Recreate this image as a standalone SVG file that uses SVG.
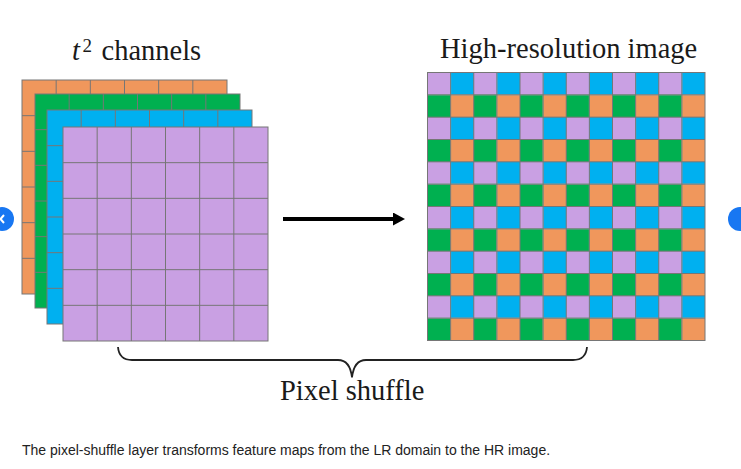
<svg xmlns="http://www.w3.org/2000/svg" width="741" height="469" viewBox="0 0 741 469">
  <style>
    .serif { font-family: "Liberation Serif", "Times New Roman", serif; fill: #1a1a1a; }
    .title { font-size: 28.5px; }
    .grid { fill: none; stroke: #767676; stroke-width: 1; }
    .orange { fill: #F0975C; }
    .green { fill: #00B050; }
    .blue { fill: #00B0F0; }
    .purple { fill: #C9A0E3; }
    .caption { font-family: "Liberation Sans", Arial, sans-serif; font-size: 14px; fill: #222222; }
    .nav { fill: #1877F2; }
  </style>
  <defs>
    <path id="lgrid" d="M34.17,0V214 M68.33,0V214 M102.5,0V214 M136.67,0V214 M170.83,0V214 M0,35.67H205 M0,71.33H205 M0,107H205 M0,142.67H205 M0,178.33H205"/>
    <pattern id="hr" patternUnits="userSpaceOnUse" x="427.5" y="72.5" width="46.25" height="44.667">
      <rect class="purple" x="0" y="0" width="23.125" height="22.334"/>
      <rect class="blue" x="23.125" y="0" width="23.125" height="22.334"/>
      <rect class="green" x="0" y="22.333" width="23.125" height="22.334"/>
      <rect class="orange" x="23.125" y="22.333" width="23.125" height="22.334"/>
    </pattern>
    <marker id="ah" markerUnits="userSpaceOnUse" markerWidth="13" markerHeight="14" refX="0" refY="6.5" orient="auto">
      <path d="M0,0 L12,6.5 L0,13 Z" fill="#000"/>
    </marker>
  </defs>

  <rect x="0" y="0" width="741" height="469" fill="#ffffff"/>

  <g id="title-left">
    <text class="serif title" y="60"><tspan x="72" font-style="italic">t</tspan><tspan x="82.5" y="52" font-size="19px">2</tspan><tspan x="101.5" y="60">channels</tspan></text>
  </g>
  <g id="title-right">
    <text class="serif title" x="440" y="58">High-resolution image</text>
  </g>

  <g id="channels">
    <g id="layer-orange" transform="translate(22,80)">
      <rect class="orange" width="205" height="214"/>
      <use href="#lgrid" class="grid"/>
      <rect class="grid" width="205" height="214"/>
    </g>
    <g id="layer-green" transform="translate(35,94)">
      <rect class="green" width="205" height="214"/>
      <use href="#lgrid" class="grid"/>
      <rect class="grid" width="205" height="214"/>
    </g>
    <g id="layer-blue" transform="translate(47,110)">
      <rect class="blue" width="205" height="214"/>
      <use href="#lgrid" class="grid"/>
      <rect class="grid" width="205" height="214"/>
    </g>
    <g id="layer-purple" transform="translate(63,127)">
      <rect class="purple" width="205" height="214"/>
      <use href="#lgrid" class="grid"/>
      <rect class="grid" width="205" height="214"/>
    </g>
  </g>

  <g id="hr-image">
    <rect x="427.5" y="72.5" width="277.5" height="268" fill="url(#hr)"/>
    <path class="grid" stroke="#8a8a8a" d="M450.625,72.5V340.5 M473.75,72.5V340.5 M496.875,72.5V340.5 M520,72.5V340.5 M543.125,72.5V340.5 M566.25,72.5V340.5 M589.375,72.5V340.5 M612.5,72.5V340.5 M635.625,72.5V340.5 M658.75,72.5V340.5 M681.875,72.5V340.5 M427.5,94.833H705 M427.5,117.167H705 M427.5,139.5H705 M427.5,161.833H705 M427.5,184.167H705 M427.5,206.5H705 M427.5,228.833H705 M427.5,251.167H705 M427.5,273.5H705 M427.5,295.833H705 M427.5,318.167H705"/>
    <rect class="grid" stroke="#8a8a8a" x="427.5" y="72.5" width="277.5" height="268"/>
  </g>

  <g id="connectors">
    <line x1="283" y1="219" x2="393" y2="219" stroke="#000" stroke-width="4" marker-end="url(#ah)"/>
    <path d="M118,347 Q119,360 132,360 L338,360 Q350,360 352,377.5 Q354,360 366,360 L573,360 Q586,360 587,347" fill="none" stroke="#222" stroke-width="1.8"/>
  </g>

  <g id="label-pixel-shuffle">
    <text class="serif title" x="280" y="400">Pixel shuffle</text>
  </g>

  <g id="caption">
    <text class="caption" x="22" y="455">The pixel-shuffle layer transforms feature maps from the LR domain to the HR image.</text>
  </g>

  <g id="nav-left">
    <circle class="nav" cx="2" cy="219" r="12"/>
    <path d="M4,215 L0.5,219 L4,223" fill="none" stroke="#fff" stroke-width="2"/>
  </g>
  <g id="nav-right">
    <circle class="nav" cx="740" cy="219" r="12"/>
  </g>
</svg>
